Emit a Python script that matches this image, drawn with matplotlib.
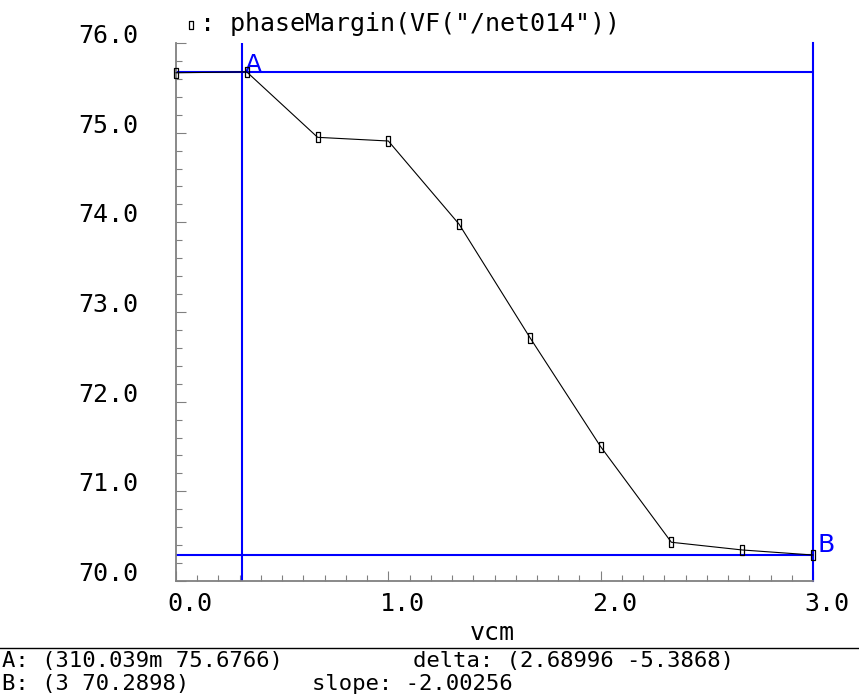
import matplotlib
matplotlib.use("Agg")
import matplotlib.pyplot as plt
from matplotlib.lines import Line2D
from matplotlib.ticker import MultipleLocator, FixedLocator
import matplotlib.transforms as mtransforms

# ---- data ----
vcm = [0.0, 0.333, 0.667, 1.0, 1.333, 1.667, 2.0, 2.333, 2.667, 3.0]
phase_margin = [75.668, 75.678, 74.948, 74.907, 73.98, 72.714, 71.498, 70.432, 70.346, 70.2898]

x_ticks = [0.0, 1.0, 2.0, 3.0]
x_tick_labels = ["0.0", "1.0", "2.0", "3.0"]
y_ticks = [70.0, 71.0, 72.0, 73.0, 74.0, 75.0, 76.0]
y_tick_labels = ["70.0", "71.0", "72.0", "73.0", "74.0", "75.0", "76.0"]

cursor_a = (0.310039, 75.6766)
cursor_b = (3.0, 70.2898)
title_text = ': phaseMargin(VF("/net014"))'
x_label = "vcm"
info_a = "A: (310.039m 75.6766)"
info_b = "B: (3 70.2898)"
info_delta = "delta: (2.68996 -5.3868)"
info_slope = "slope: -2.00256"

# ---- figure ----
W, H = 859, 698
plt.rcParams['font.family'] = ['DejaVu Sans Mono', 'DejaVu Sans']
fig = plt.figure(figsize=(W / 100, H / 100), dpi=100)
fig.patch.set_facecolor('white')

def fx(px):
    return px / W

def fy(py):
    return 1 - py / H

ax = fig.add_axes([fx(176), fy(581), fx(813) - fx(176), fy(43) - fy(581)])
ax.set_xlim(0, 3)
ax.set_ylim(70, 76)

grey = '#808080'
for s in ['top', 'right']:
    ax.spines[s].set_visible(False)
for s in ['left', 'bottom']:
    ax.spines[s].set_color(grey)
    ax.spines[s].set_linewidth(1.3)

ax.xaxis.set_major_locator(FixedLocator(x_ticks))
ax.set_xticklabels(x_tick_labels)
ax.xaxis.set_minor_locator(MultipleLocator(0.1))
ax.yaxis.set_major_locator(FixedLocator(y_ticks))
ax.set_yticklabels(y_tick_labels)
ax.yaxis.set_minor_locator(MultipleLocator(0.2))

ax.tick_params(axis='both', which='both', direction='in', color=grey,
               labelcolor='black', width=0.8, labelsize=18)
ax.tick_params(axis='both', which='major', length=7.5)
ax.tick_params(axis='both', which='minor', length=4.3)
ax.tick_params(axis='x', which='major', pad=8)
ax.tick_params(axis='y', which='major', pad=27)

offset = mtransforms.ScaledTranslation(14 / 100, 0, fig.dpi_scale_trans)
for lab in ax.get_xticklabels():
    lab.set_transform(lab.get_transform() + offset)
for lab in ax.get_yticklabels():
    lab.set_va('baseline')

# cursors
blue = '#0000ff'
ax.axvline(cursor_a[0], color=blue, lw=1.5, zorder=2)
ax.axhline(cursor_a[1], color=blue, lw=1.5, zorder=2)
ax.axvline(cursor_b[0], color=blue, lw=1.5, zorder=2, clip_on=False)
ax.axhline(cursor_b[1], color=blue, lw=1.5, zorder=2)
ax.annotate('A', xy=cursor_a, xytext=(3, 0), textcoords='offset pixels',
            color=blue, fontsize=18, ha='left', va='baseline',
            fontfamily='DejaVu Sans')
ax.annotate('B', xy=cursor_b, xytext=(5, 3), textcoords='offset pixels',
            color=blue, fontsize=18, ha='left', va='baseline',
            fontfamily='DejaVu Sans', annotation_clip=False)

# data
rect = [(-0.5, -1), (0.5, -1), (0.5, 1), (-0.5, 1), (-0.5, -1)]
ax.plot(vcm, phase_margin, color='black', lw=0.8, marker=rect,
        markersize=6.5, markerfacecolor='none', markeredgecolor='black',
        markeredgewidth=0.9, zorder=3, clip_on=False)

# title with marker glyph
fig.add_artist(Line2D([fx(191)], [fy(25)], transform=fig.transFigure,
                      marker=rect, markersize=6, markerfacecolor='none',
                      markeredgecolor='black', markeredgewidth=0.9, lw=0))
fig.text(fx(200), fy(31), title_text, fontsize=18, ha='left', va='baseline')

# x label
fig.text(fx(492), fy(640), x_label, fontsize=18, ha='center', va='baseline')

# bottom info area
fig.add_artist(Line2D([0, 1], [fy(648), fy(648)], transform=fig.transFigure,
                      color='black', lw=1.0))
fig.text(fx(2), fy(667), info_a, fontsize=16, ha='left', va='baseline')
fig.text(fx(2), fy(690), info_b, fontsize=16, ha='left', va='baseline')
fig.text(fx(413), fy(667), info_delta, fontsize=16, ha='left', va='baseline')
fig.text(fx(312), fy(690), info_slope, fontsize=16, ha='left', va='baseline')

fig.savefig('out.png', dpi=100, facecolor='white')
